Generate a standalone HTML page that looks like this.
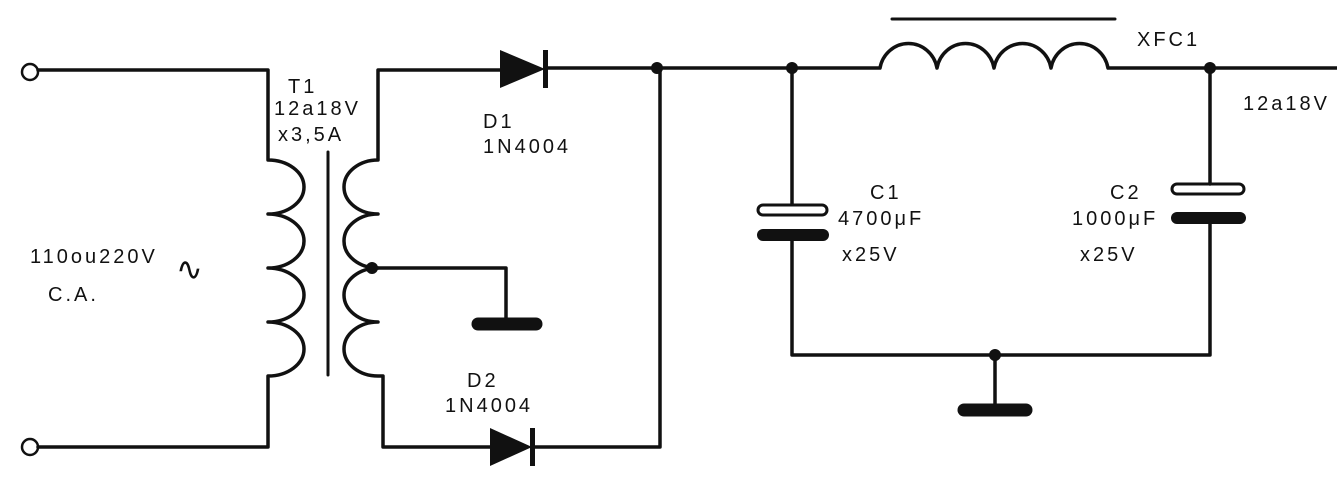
<!DOCTYPE html>
<html><head><meta charset="utf-8"><style>
body{margin:0;background:#fff;}
svg{display:block}
text{font-family:"Liberation Sans",sans-serif;font-size:20px;fill:#111;letter-spacing:3px}
</style></head><body>
<svg width="1337" height="487" viewBox="0 0 1337 487">
<g fill="none" stroke="#111" stroke-width="3.5" stroke-linecap="round" stroke-linejoin="round">
<circle cx="30" cy="72" r="8" stroke-width="2.5"/>
<circle cx="30" cy="447" r="8" stroke-width="2.5"/>
<path d="M38,70 H268 V160 a36,27 0 0 1 0,54 a36,27 0 0 1 0,54 a36,27 0 0 1 0,54 a36,27 0 0 1 0,54 V447 H38"/>
<line x1="328" y1="152" x2="328" y2="375" stroke-width="3"/>
<path d="M500,70 H378 V160 a34,27 0 0 0 0,54 a34,27 0 0 0 0,54 a34,27 0 0 0 0,54 a34,27 0 0 0 0,54 H383 V447 H490"/>
<path d="M372,268 H506 V322"/>
<line x1="478" y1="324" x2="536" y2="324" stroke-width="13"/>
<path d="M548,68 H880 a29,30 0 0 1 57,0 a29,30 0 0 1 57,0 a29,30 0 0 1 57,0 a29,30 0 0 1 57,0 H1337"/>
<line x1="892" y1="19" x2="1115" y2="19" stroke-width="3"/>
<path d="M535,447 H660 V68"/>
<path d="M792,68 V204 M792,236 V355 H1210 V222 M1210,68 V184"/>
<rect x="758" y="205" width="69" height="10" rx="5" stroke-width="3"/>
<line x1="763" y1="235" x2="823" y2="235" stroke-width="12"/>
<rect x="1172" y="184" width="72" height="10" rx="5" stroke-width="3"/>
<line x1="1177" y1="218" x2="1240" y2="218" stroke-width="12"/>
<path d="M995,355 V410"/>
<line x1="964" y1="410" x2="1026" y2="410" stroke-width="13"/>
</g>
<g fill="#111">
<polygon points="500,50 500,88 545,69"/>
<rect x="543" y="50" width="5" height="38"/>
<polygon points="490,428 490,466 532,447"/>
<rect x="530" y="428" width="5" height="38"/>
<circle cx="372" cy="268" r="6"/>
<circle cx="657" cy="68" r="6"/>
<circle cx="792" cy="68" r="6"/>
<circle cx="1210" cy="68" r="6"/>
<circle cx="995" cy="355" r="6"/>
</g>
<text x="288" y="93">T1</text>
<text x="274" y="115">12a18V</text>
<text x="278" y="141">x3,5A</text>
<text x="483" y="128">D1</text>
<text x="483" y="153">1N4004</text>
<text x="467" y="387">D2</text>
<text x="445" y="412">1N4004</text>
<text x="870" y="199">C1</text>
<text x="838" y="225">4700μF</text>
<text x="842" y="261">x25V</text>
<text x="1110" y="199">C2</text>
<text x="1072" y="225">1000μF</text>
<text x="1080" y="261">x25V</text>
<text x="1137" y="46">XFC1</text>
<text x="1243" y="110">12a18V</text>
<text x="30" y="263">110ou220V</text>
<text x="48" y="301">C.A.</text>
<text x="176" y="280" style="font-size:32px">∿</text>
</svg>
</body></html>
